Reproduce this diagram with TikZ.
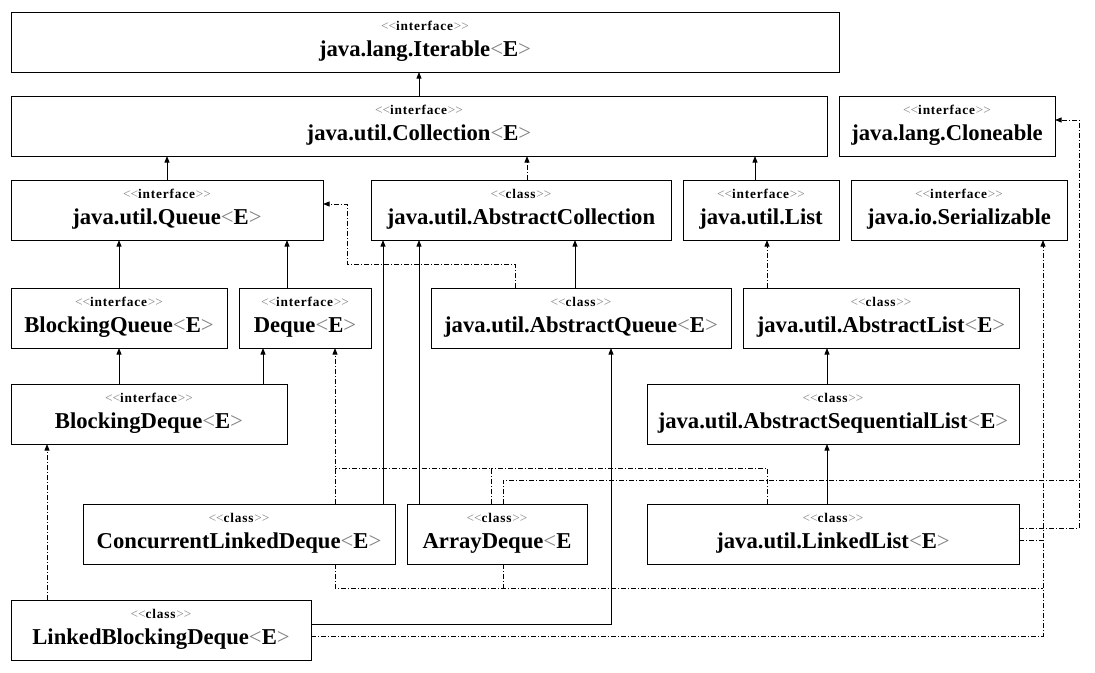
\documentclass[tikz,border=0pt]{standalone}
\usepackage{fontspec}
\setmainfont{Liberation Serif}
\newfontfamily\stfont{Liberation Serif}[LetterSpace=6]
\usetikzlibrary{arrows.meta}
\definecolor{ltgray}{gray}{0.5}
\newcommand\Lsym{{\mdseries\color{ltgray}<}}
\newcommand\Gsym{{\mdseries\color{ltgray}>}}
\newcommand\stt[1]{{\stfont\fontsize{10pt}{11pt}\selectfont\Lsym\Lsym\textbf{#1}\Gsym\Gsym}}
\newcommand\ttl[1]{\textbf{#1}\Lsym\textbf{E}\Gsym}
\newcommand\cls[7]{%
  \node[box, minimum width={(#4-#2)*0.75pt}, minimum height={(#5-#3)*0.75pt},
    label={[st]north:{\stt{#6}}}, label={[nm]north:{#7}}] (#1) at ({(#2+#4)/2},{(#3+#5)/2}) {};}
\tikzset{
  box/.style={draw, line width=0.75pt, rectangle, inner sep=0pt, outer sep=0pt, fill=white},
  st/.style={anchor=base, yshift=-14pt, inner sep=0pt},
  nm/.style={anchor=base, yshift=-33pt, inner sep=0pt, font=\fontsize{17pt}{19pt}\selectfont},
  gen/.style={draw, line width=0.75pt, -{Triangle[length=5pt,width=3.75pt]}},
  lnk/.style={draw, line width=0.75pt, dash pattern=on 3.75pt off 1.5pt on 0.75pt off 1.5pt},
  real/.style={lnk, -{Triangle[length=5pt,width=3.75pt]}},
}
\begin{document}
\begin{tikzpicture}[x=0.75pt, y=-0.75pt]
\useasboundingbox[fill=white] (0,0) rectangle (1095,672);
% classes
\cls{iter}{11}{12}{839}{72}{interface}{\ttl{java.lang.Iterable}}
\cls{coll}{11}{96}{827}{156}{interface}{\ttl{java.util.Collection}}
\cls{clone}{839}{96}{1055}{156}{interface}{\textbf{java.lang.Cloneable}}
\cls{queue}{11}{180}{323}{240}{interface}{\ttl{java.util.Queue}}
\cls{abscoll}{371}{180}{671}{240}{class}{\textbf{java.util.AbstractCollection}}
\cls{list}{683}{180}{839}{240}{interface}{\textbf{java.util.List}}
\cls{ser}{851}{180}{1067}{240}{interface}{\textbf{java.io.Serializable}}
\cls{bq}{11}{288}{227}{348}{interface}{\ttl{BlockingQueue}}
\cls{deque}{239}{288}{371}{348}{interface}{\ttl{Deque}}
\cls{absq}{431}{288}{731}{348}{class}{\ttl{java.util.AbstractQueue}}
\cls{alist}{743}{288}{1019}{348}{class}{\ttl{java.util.AbstractList}}
\cls{bd}{11}{384}{287}{444}{interface}{\ttl{BlockingDeque}}
\cls{asl}{647}{384}{1019}{444}{class}{\ttl{java.util.AbstractSequentialList}}
\cls{cld}{83}{504}{395}{564}{class}{\ttl{ConcurrentLinkedDeque}}
\cls{ad}{407}{504}{587}{564}{class}{\textbf{ArrayDeque}\Lsym\textbf{E}}
\cls{ll}{647}{504}{1019}{564}{class}{\ttl{java.util.LinkedList}}
\cls{lbd}{11}{600}{311}{660}{class}{\ttl{LinkedBlockingDeque}}
% generalizations
\draw[gen] (coll.north -| 419,0) -- (iter.south -| 419,0);
\draw[gen] (queue.north -| 167,0) -- (coll.south -| 167,0);
\draw[real] (abscoll.north -| 527,0) -- (coll.south -| 527,0);
\draw[gen] (list.north -| 755,0) -- (coll.south -| 755,0);
\draw[gen] (bq.north -| 119,0) -- (queue.south -| 119,0);
\draw[gen] (deque.north -| 287,0) -- (queue.south -| 287,0);
\draw[real] (absq.north -| 515,0) |- (347,264) |- (queue.east |- 0,204);
\draw[gen] (absq.north -| 575,0) -- (abscoll.south -| 575,0);
\draw[real] (alist.north -| 767,0) -- (list.south -| 767,0);
\draw[gen] (bd.north -| 119,0) -- (bq.south -| 119,0);
\draw[gen] (bd.north -| 263,0) -- (deque.south -| 263,0);
\draw[gen] (asl.north -| 827,0) -- (alist.south -| 827,0);
\draw[gen] (ll.north -| 827,0) -- (asl.south -| 827,0);
\draw[gen] (cld.north -| 383,0) -- (abscoll.south -| 383,0);
\draw[gen] (ad.north -| 419,0) -- (abscoll.south -| 419,0);
\draw[real] (lbd.north -| 47,0) -- (bd.south -| 47,0);
\draw[gen] (lbd.east |- 0,624) -| (absq.south -| 611,0);
% Deque realizations
\draw[real] (cld.north -| 335,0) -- (335,468) -- (deque.south -| 335,0);
\draw[lnk] (ad.north -| 491,0) |- (335,468);
\draw[lnk] (ll.north -| 767,0) |- (491,468);
% Cloneable realizations
\draw[real] (ll.east |- 0,528) -| (1079,120) -- (clone.east |- 0,120);
\draw[lnk] (ad.north -| 503,0) |- (1079,480);
% Serializable realizations
\draw[real] (lbd.east |- 0,636) -| (ser.south -| 1043,0);
\draw[lnk] (cld.south -| 335,0) |- (1043,588);
\draw[lnk] (ad.south -| 503,0) -- (503,588);
\draw[lnk] (ll.east |- 0,540) -- (1043,540);
\end{tikzpicture}
\end{document}
